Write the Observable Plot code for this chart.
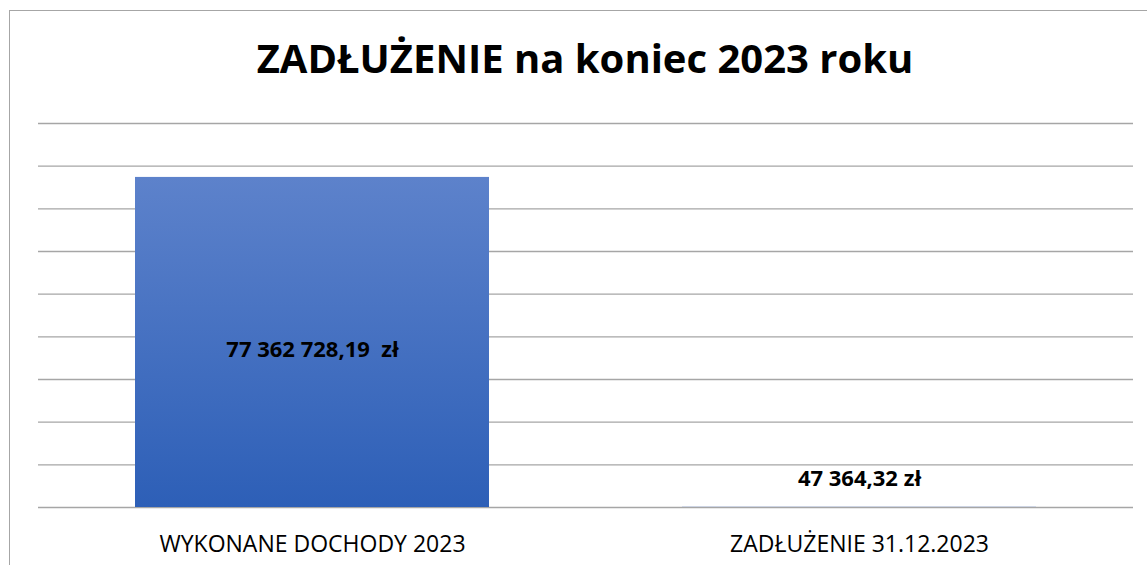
<!DOCTYPE html>
<html>
<head>
<meta charset="utf-8">
<script src="https://cdn.jsdelivr.net/npm/d3@7"></script>
<script src="https://cdn.jsdelivr.net/npm/@observablehq/plot@0.6"></script>
<style>
  html, body { margin: 0; padding: 0; background: #fff; overflow: hidden; }
  body { width: 1147px; height: 565px; position: relative; font-family: "Open Sans", Lato, sans-serif; }
  #frame { position: absolute; left: 9px; top: 10px; width: 1200px; height: 700px; border: 1.5px solid #a6a6a6; box-sizing: border-box; }
  #title { position: absolute; left: 0; top: 38px; width: 1170px; text-align: center; font-size: 40px; font-weight: 700; color: #000; line-height: 1; }
  #chart { position: absolute; left: 0; top: 110px; }
</style>
</head>
<body>
<div id="frame"></div>
<div id="title">ZADŁUŻENIE na koniec 2023 roku</div>
<div id="chart"></div>
<script>
const categories = ["WYKONANE DOCHODY 2023", "ZADŁUŻENIE 31.12.2023"];
const values = [77362728.19, 47364.32];
const valueLabels = ["77\u00a0362\u00a0728,19\u00a0\u00a0zł", "47\u00a0364,32 zł"];
const gridTicks = [0, 10e6, 20e6, 30e6, 40e6, 50e6, 60e6, 70e6, 80e6, 90e6];

const data = categories.map((c, i) => ({cat: c, value: values[i], label: valueLabels[i]}));

const defs = () => {
  const ns = "http://www.w3.org/2000/svg";
  const g = document.createElementNS(ns, "g");
  g.innerHTML = `
    <defs>
      <linearGradient id="barGrad" x1="0" y1="0" x2="0" y2="1">
        <stop offset="0%" stop-color="#5d82cb"/>
        <stop offset="100%" stop-color="#2d5fb7"/>
      </linearGradient>
      <filter id="shadow" x="-10%" y="-10%" width="120%" height="120%">
        <feDropShadow dx="0" dy="1" stdDeviation="2.5" flood-color="#000" flood-opacity="0.3"/>
      </filter>
    </defs>`;
  return g;
};

const chart = Plot.plot({
  width: 1147,
  height: 455,
  marginTop: 13,
  marginBottom: 58,
  marginLeft: 38,
  marginRight: 14,
  style: { fontFamily: "'Open Sans', Lato, sans-serif", background: "transparent" },
  x: { domain: categories, paddingInner: 0.3534, paddingOuter: 0.1767, label: null, axis: null },
  y: { domain: [0, 90e6], axis: null },
  marks: [
    defs,
    Plot.gridY(gridTicks, { stroke: "#a6a6a6", strokeOpacity: 1, strokeWidth: 1.4 }),
    Plot.barY(data, { x: "cat", y: "value", fill: "url(#barGrad)" }),
    Plot.text(data.slice(0, 1), { x: "cat", y: d => d.value / 2, text: "label", fontSize: 22, fontWeight: 700, fill: "#000", dy: 7 }),
    Plot.text(data.slice(1), { x: "cat", y: "value", text: "label", fontSize: 22, fontWeight: 700, fill: "#000", dy: -28 }),
    Plot.axisX({ tickSize: 0, tickPadding: 28, fontSize: 23, fill: "#000", label: null })
  ]
});
chart.querySelectorAll("rect").forEach(r => { if (r.getAttribute("fill") === "url(#barGrad)" && +r.getAttribute("height") > 5) r.setAttribute("filter", "url(#shadow)"); });
document.getElementById("chart").appendChild(chart);
</script>
</body>
</html>
